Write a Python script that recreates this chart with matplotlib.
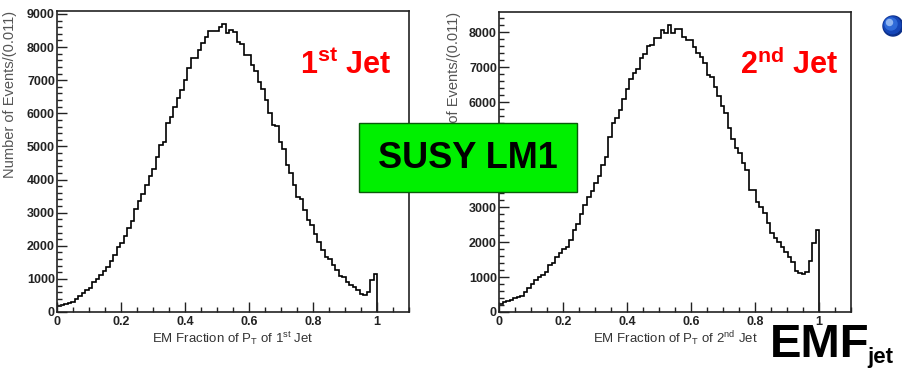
"""EM fraction of the two leading jets, SUSY LM1 sample."""

import numpy as np
import matplotlib.pyplot as plt
from matplotlib.patches import Rectangle, Circle
from matplotlib.ticker import MultipleLocator, FuncFormatter

BIN_WIDTH = 0.011

# events per bin (0.011 wide, starting at 0)
jet1_counts = [
    181, 211, 232, 262, 312, 393, 493, 564, 665, 735,
    896, 987, 1118, 1239, 1370, 1541, 1722, 1954, 2095, 2296,
    2528, 2759, 3102, 3364, 3555, 3837, 4109, 4310, 4693, 5045,
    5146, 5700, 5901, 6203, 6455, 6707, 7009, 7362, 7664, 7664,
    7915, 8117, 8298, 8500, 8500, 8480, 8600, 8690, 8420, 8520,
    8470, 8140, 8100, 7770, 7760, 7460, 7280, 6960, 6740, 6400,
    6000, 5650, 5620, 5146, 4914, 4441, 4189, 3837, 3484, 3404,
    3082, 2779, 2628, 2356, 2125, 1873, 1672, 1591, 1420, 1269,
    1098, 1047, 916, 816, 745, 665, 540, 500, 610, 970,
    1150,
]

jet2_counts = [
    229, 290, 310, 340, 390, 420, 450, 560, 680, 800,
    915, 991, 1058, 1153, 1344, 1411, 1563, 1678, 1792, 1868,
    2059, 2345, 2517, 2803, 3060, 3279, 3470, 3680, 3889, 4204,
    4442, 4995, 5396, 5539, 5777, 6082, 6368, 6654, 6845, 6940,
    7255, 7379, 7607, 7636, 7826, 7826, 8065, 7989, 8208, 7970,
    8084, 8084, 7874, 7779, 7779, 7588, 7397, 7302, 7131, 6778,
    6730, 6444, 6180, 5890, 5700, 5253, 4938, 4681, 4538, 4252,
    4061, 3489, 3489, 3155, 3012, 2822, 2536, 2269, 2107, 2011,
    1868, 1725, 1582, 1440, 1182, 1110, 1080, 1150, 1470, 1980,
    2345,
]

W, H = 903, 369


def px(x, y):
    """Figure fraction from pixel position (origin top left)."""
    return x / W, 1 - y / H


def main():
    plt.rcParams['font.family'] = ['Liberation Sans', 'DejaVu Sans']
    plt.rcParams['mathtext.fontset'] = 'custom'
    plt.rcParams['mathtext.rm'] = 'Liberation Sans'
    plt.rcParams['mathtext.it'] = 'Liberation Sans:italic'
    plt.rcParams['mathtext.bf'] = 'Liberation Sans:bold'

    fig = plt.figure(figsize=(W / 100, H / 100), dpi=100)
    ax1 = fig.add_axes([57 / W, 57 / H, 352 / W, 301 / H])
    ax2 = fig.add_axes([499 / W, 57 / H, 352 / W, 300 / H])

    plot_histogram(ax1, jet1_counts, 9090,
                   r'EM Fraction of P$_{\mathrm{T}}$ of 1$^{\mathrm{st}}$ Jet')
    plot_histogram(ax2, jet2_counts, 8580,
                   r'EM Fraction of P$_{\mathrm{T}}$ of 2$^{\mathrm{nd}}$ Jet')
    ax1.yaxis.set_label_coords(-0.115, 1.0)
    ax2.yaxis.set_label_coords(-0.108, 1.0)

    # jet labels
    fig.text(*px(300, 74), r'$\mathbf{1^{st}}$ Jet', color='#ff0000',
             fontsize=22, fontweight='bold', va='baseline')
    fig.text(*px(740, 74), r'$\mathbf{2^{nd}}$ Jet', color='#ff0000',
             fontsize=22, fontweight='bold', va='baseline')

    # sample box on top of both panels
    x0, y0 = px(359, 192)
    box = Rectangle((x0, y0), 218 / W, 69 / H, transform=fig.transFigure,
                    facecolor='#00f000', edgecolor='#0a5a0a', linewidth=1,
                    zorder=10)
    fig.add_artist(box)
    fig.text(*px(468, 158), 'SUSY LM1', fontsize=26, fontweight='bold',
             ha='center', va='center', zorder=11)

    # slide leftovers: bullet and EMF_jet
    centre = (893 / 100, (H - 26) / 100)
    for r, c in [(0.10, '#0b2f8a'), (0.085, '#1546b8'),
                 (0.06, '#2f6ad8'), (0.03, '#8fb4f0')]:
        off = (0.10 - r) * 0.5
        fig.add_artist(Circle((centre[0] - off, centre[1] + off), r,
                              transform=fig.dpi_scale_trans, color=c,
                              zorder=12))
    fig.text(*px(770, 357), 'EMF', fontsize=34, fontweight='bold',
             va='baseline')
    fig.text(*px(867, 363), 'jet', fontsize=16, fontweight='bold',
             va='baseline')

    fig.savefig('out.png', dpi=100)


def plot_histogram(ax, counts, ymax, xlabel):
    edges = np.arange(len(counts) + 1) * BIN_WIDTH
    ax.stairs(counts, edges, color='black', linewidth=1.2)
    ax.set_xlim(0, 1.1)
    ax.set_ylim(0, ymax)
    ax.xaxis.set_major_locator(MultipleLocator(0.2))
    ax.xaxis.set_minor_locator(MultipleLocator(0.05))
    ax.yaxis.set_major_locator(MultipleLocator(1000))
    ax.yaxis.set_minor_locator(MultipleLocator(200))
    ax.xaxis.set_major_formatter(FuncFormatter(lambda v, p: '%g' % v))
    ax.tick_params(which='both', direction='in', top=False, right=False,
                   width=1, colors='#222222')
    ax.tick_params(which='major', length=7.5)
    ax.tick_params(which='minor', length=3.8)
    ax.tick_params(axis='x', pad=3, labelsize=9)
    ax.tick_params(axis='y', pad=1.5, labelsize=9)
    for lab in ax.get_xticklabels() + ax.get_yticklabels():
        lab.set_fontweight('bold')
    for spine in ax.spines.values():
        spine.set_linewidth(1.2)
        spine.set_color('#222222')
    ax.set_xlabel(xlabel, fontsize=9.5, color='#333333', labelpad=1)
    ax.set_ylabel('Number of Events/(0.011)', fontsize=10.5,
                  color='#555555', loc='top')


if __name__ == '__main__':
    main()
